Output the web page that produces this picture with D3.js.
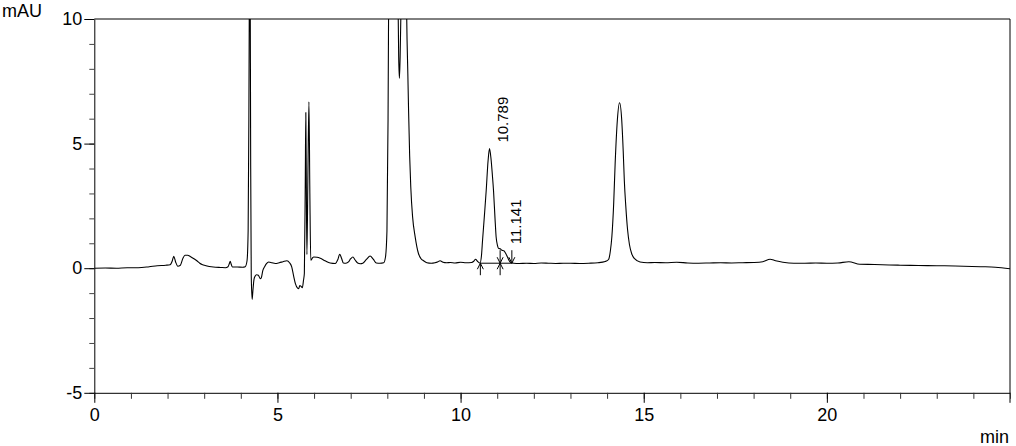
<!DOCTYPE html>
<html>
<head>
<meta charset="utf-8">
<script src="https://cdn.jsdelivr.net/npm/d3@7"></script>
<style>
  html, body { margin: 0; padding: 0; background: #fff; }
  svg { display: block; }
  text { font-family: "Liberation Sans", Arial, sans-serif; fill: #000; }
</style>
</head>
<body>
<svg id="chart" width="1016" height="446"></svg>
<script>
// ---- data ----
const times = [0,0.3,0.6,0.9,1.2,1.5,1.72,1.95,2.07,2.13,2.17,2.22,2.28,2.35,2.42,2.48,2.55,2.62,2.72,2.80,2.88,2.94,3.05,3.25,3.45,3.58,3.65,3.69,3.71,3.74,3.77,3.9,4.05,4.12,4.17,4.20,4.22,4.235,4.245,4.255,4.27,4.285,4.31,4.33,4.36,4.39,4.43,4.48,4.53,4.56,4.60,4.65,4.70,4.76,4.85,4.94,5.05,5.15,5.26,5.33,5.39,5.44,5.49,5.55,5.58,5.61,5.64,5.68,5.71,5.735,5.76,5.775,5.79,5.805,5.83,5.86,5.885,5.91,5.96,5.99,6.08,6.17,6.30,6.44,6.58,6.65,6.70,6.75,6.80,6.87,6.94,7.0,7.06,7.12,7.19,7.26,7.33,7.43,7.53,7.62,7.70,7.80,7.90,7.95,7.99,8.02,8.04,8.09,8.17,8.25,8.29,8.31,8.33,8.35,8.38,8.43,8.47,8.51,8.53,8.56,8.58,8.61,8.64,8.69,8.76,8.85,8.92,8.99,9.08,9.2,9.3,9.37,9.44,9.52,9.62,9.72,9.85,10.0,10.15,10.3,10.36,10.41,10.46,10.53,10.57,10.60,10.65,10.70,10.75,10.79,10.83,10.87,10.90,10.94,10.97,11.01,11.04,11.08,11.13,11.18,11.23,11.28,11.32,11.36,11.45,11.6,11.8,12.0,12.2,12.4,12.6,12.8,13.0,13.25,13.5,13.75,13.95,14.04,14.09,14.13,14.18,14.22,14.28,14.34,14.40,14.44,14.47,14.51,14.56,14.61,14.67,14.75,14.9,15.1,15.3,15.6,15.9,16.2,16.5,16.8,17.1,17.4,17.7,18.0,18.25,18.45,18.6,18.8,19.1,19.4,19.7,20.0,20.3,20.6,20.9,21.3,21.7,22.0,22.5,23.0,23.5,24.2,24.6,25.0];
const signal = [0.0,0.01,0.0,0.02,0.02,0.06,0.1,0.12,0.14,0.3,0.48,0.25,0.08,0.12,0.4,0.52,0.52,0.47,0.38,0.3,0.2,0.15,0.1,0.05,0.03,0.02,0.06,0.2,0.28,0.15,0.05,0.05,0.04,0.06,0.3,1.5,6,12,16,12,4,-0.3,-1.25,-0.9,-0.45,-0.32,-0.26,-0.28,-0.42,-0.38,-0.1,0.06,0.18,0.25,0.22,0.19,0.22,0.26,0.3,0.22,0.05,-0.3,-0.62,-0.8,-0.82,-0.7,-0.72,-0.78,-0.5,-0.2,3.5,6.25,3,0.55,3.5,6.68,3,0.32,0.42,0.45,0.44,0.4,0.3,0.21,0.19,0.35,0.56,0.4,0.21,0.2,0.25,0.38,0.45,0.33,0.21,0.18,0.2,0.35,0.49,0.35,0.21,0.2,0.22,0.45,1.5,6,12,22,26,20,11,8.5,7.62,8.5,11,18,19,13,10,7.8,6.35,4.5,3.27,2.06,1.26,0.59,0.38,0.3,0.22,0.2,0.22,0.25,0.3,0.24,0.22,0.23,0.21,0.24,0.22,0.23,0.28,0.36,0.28,0.21,0.5,1.12,2.1,3.13,4.3,4.8,4.4,3.7,3.1,2.0,1.26,0.9,0.79,0.78,0.72,0.7,0.6,0.45,0.32,0.24,0.2,0.19,0.2,0.19,0.21,0.2,0.19,0.2,0.2,0.19,0.2,0.22,0.27,0.35,0.7,1.26,2.6,4.2,5.94,6.64,5.94,4.7,3.53,2.5,1.53,0.95,0.59,0.38,0.25,0.22,0.23,0.22,0.24,0.21,0.2,0.21,0.22,0.21,0.22,0.23,0.26,0.36,0.3,0.24,0.2,0.2,0.21,0.2,0.21,0.26,0.16,0.15,0.13,0.12,0.11,0.1,0.09,0.06,0.04,-0.02];

const xTicks = [0, 5, 10, 15, 20];
const yTicks = [-5, 0, 5, 10];
const peakLabels = ["10.789", "11.141"];
const peakTimes = [10.789, 11.141];
const peakHeights = [4.8, 0.72];
const markerTimes = [10.54, 11.08, 11.40];
const markerKinds = ["up", "both", "down"];
const integrationBaseline = 0.2;

// ---- layout ----
const svg = d3.select("#chart");
const pLeft = 94.3, pRight = 1010, pTop = 19, pBottom = 392.8;
const x = d3.scaleLinear().domain([0, 25]).range([pLeft, pRight]);
const y = d3.scaleLinear().domain([-5, 10]).range([pBottom, pTop]);
const fmt = d => String(d);

svg.append("rect").attr("width", 1016).attr("height", 446).attr("fill", "#fff");

svg.append("defs").append("clipPath").attr("id", "plotclip")
  .append("rect").attr("x", pLeft).attr("y", pTop).attr("width", pRight - pLeft).attr("height", pBottom - pTop);

// frame (top + right)
svg.append("line").attr("x1", pLeft).attr("x2", pRight).attr("y1", pTop).attr("y2", pTop)
  .attr("stroke", "#000").attr("stroke-width", 1);
svg.append("line").attr("x1", pRight).attr("x2", pRight).attr("y1", pTop).attr("y2", pBottom + 10)
  .attr("stroke", "#000").attr("stroke-width", 1);

// x axis
const gx = svg.append("g").attr("transform", `translate(0,${pBottom})`);
gx.call(d3.axisBottom(x).tickValues(d3.range(0, 26)).tickSize(6).tickSizeOuter(0).tickFormat(""));
gx.selectAll(".tick line").attr("stroke", "#333");
gx.select(".domain").attr("stroke", "#000");
const gx2 = svg.append("g").attr("transform", `translate(0,${pBottom})`);
gx2.call(d3.axisBottom(x).tickValues(xTicks).tickSize(10).tickSizeOuter(0).tickPadding(5).tickFormat(fmt));
gx2.select(".domain").remove();
gx2.selectAll("text").attr("font-size", 18).attr("font-family", '"Liberation Sans", Arial, sans-serif').attr("fill", "#000");

// y axis
const gy = svg.append("g").attr("transform", `translate(${pLeft},0)`);
gy.call(d3.axisLeft(y).tickValues(d3.range(-5, 11)).tickSize(5).tickSizeOuter(0).tickFormat(""));
gy.selectAll(".tick line").attr("stroke", "#444");
gy.select(".domain").attr("stroke", "#000");
const gy2 = svg.append("g").attr("transform", `translate(${pLeft},0)`);
gy2.call(d3.axisLeft(y).tickValues(yTicks).tickSize(10).tickSizeOuter(0).tickPadding(2).tickFormat(fmt));
gy2.select(".domain").remove();
gy2.selectAll("text").attr("font-size", 18).attr("font-family", '"Liberation Sans", Arial, sans-serif').attr("fill", "#000");

// unit labels
svg.append("text").attr("x", 2).attr("y", 17).attr("font-size", 18).text("mAU");
svg.append("text").attr("x", 1009).attr("y", 443).attr("text-anchor", "end").attr("font-size", 18).text("min");

// trace
const data = times.map((t, i) => [t, signal[i]]);
const line = d3.line().x(d => x(d[0])).y(d => y(d[1])).curve(d3.curveMonotoneX);
svg.append("path").datum(data).attr("clip-path", "url(#plotclip)")
  .attr("d", line).attr("fill", "none").attr("stroke", "#000").attr("stroke-width", 1.1)
  .attr("stroke-linejoin", "round");

// integration baseline & markers
const yb = y(integrationBaseline);
svg.append("line").attr("x1", x(markerTimes[0])).attr("x2", x(markerTimes[markerTimes.length - 1]))
  .attr("y1", yb).attr("y2", yb).attr("stroke", "#000").attr("stroke-width", 1);
markerTimes.forEach((t, i) => {
  const mx = x(t), k = markerKinds[i];
  const g = svg.append("g").attr("stroke", "#000").attr("fill", "none").attr("stroke-width", 1);
  if (k === "up" || k === "both") {
    g.append("line").attr("x1", mx).attr("x2", mx).attr("y1", yb).attr("y2", yb + 12);
    g.append("path").attr("d", `M${mx - 3},${yb + 6}L${mx},${yb}L${mx + 3},${yb + 6}`);
  }
  if (k === "down" || k === "both") {
    g.append("line").attr("x1", mx).attr("x2", mx).attr("y1", yb).attr("y2", yb - 13);
    g.append("path").attr("d", `M${mx - 3},${yb - 6}L${mx},${yb}L${mx + 3},${yb - 6}`);
  }
});

// peak labels
peakLabels.forEach((lab, i) => {
  const px = x(peakTimes[i]), py = y(peakHeights[i]);
  svg.append("text")
    .attr("transform", `translate(${px + 18.5},${py - 6}) rotate(-90)`)
    .attr("font-size", 15).attr("text-anchor", "start").text(lab);
});
</script>
</body>
</html>
